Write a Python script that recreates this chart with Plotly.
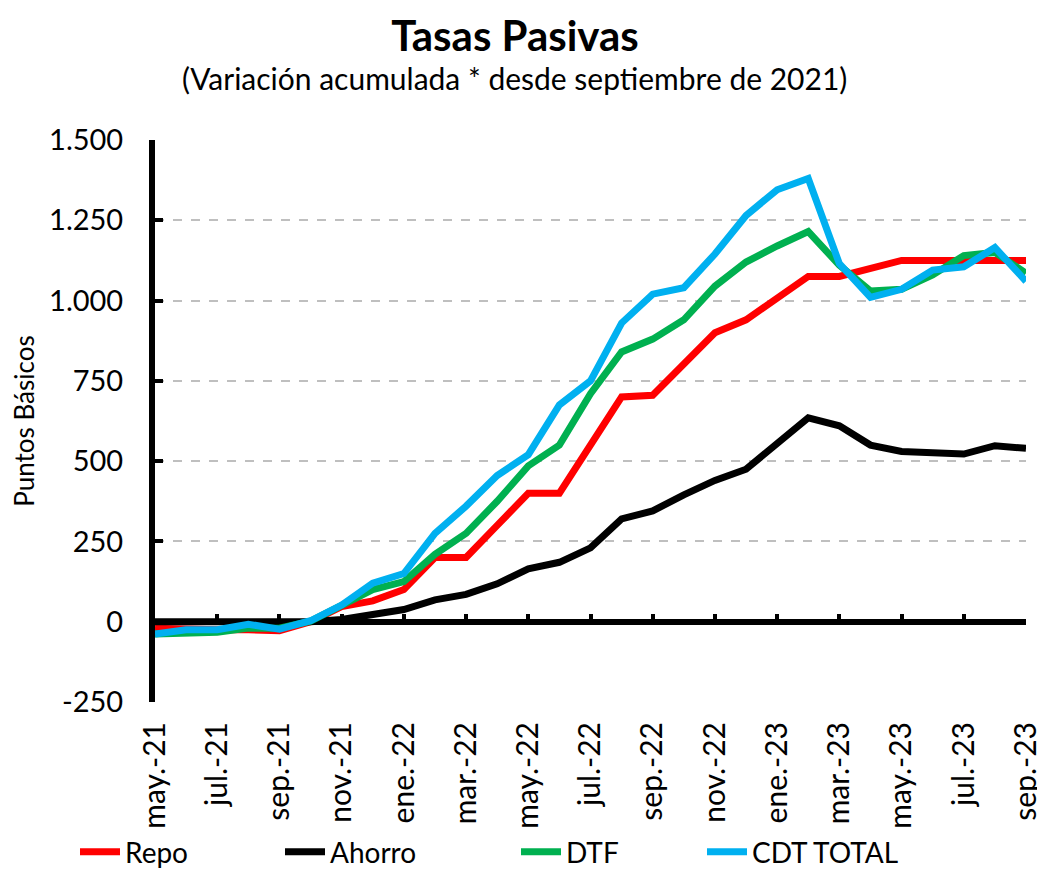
import plotly.graph_objects as go

months = ["may.-21", "jun.-21", "jul.-21", "ago.-21", "sep.-21", "oct.-21", "nov.-21", "dic.-21",
          "ene.-22", "feb.-22", "mar.-22", "abr.-22", "may.-22", "jun.-22", "jul.-22", "ago.-22",
          "sep.-22", "oct.-22", "nov.-22", "dic.-22", "ene.-23", "feb.-23", "mar.-23", "abr.-23",
          "may.-23", "jun.-23", "jul.-23", "ago.-23", "sep.-23"]

repo = [-20, -25, -25, -25, -28, 0, 47, 65, 100, 200, 200, 300, 400, 400, 550, 700, 705, 800,
        900, 940, 1010, 1075, 1075, 1100, 1125, 1125, 1125, 1125, 1125]
ahorro = [0, 0, 0, 0, 0, 0, 7, 20, 38, 68, 85, 118, 165, 185, 230, 320, 345, 395,
          440, 475, 555, 635, 610, 550, 530, 525, 522, 548, 540]
dtf = [-38, -33, -33, -20, -20, 2, 50, 100, 125, 210, 275, 375, 485, 550, 710, 840, 880, 940,
       1045, 1120, 1170, 1215, 1110, 1030, 1035, 1080, 1140, 1150, 1085]
cdt = [-38, -25, -25, -8, -23, 3, 52, 120, 150, 275, 360, 455, 520, 675, 750, 930, 1020, 1040,
       1145, 1265, 1345, 1380, 1115, 1010, 1035, 1095, 1105, 1165, 1060]

series_names = ["Repo", "Ahorro", "DTF", "CDT TOTAL"]
series_colors = ["#FF0000", "#000000", "#00B050", "#00B0F0"]
series_values = [repo, ahorro, dtf, cdt]
legend_ids = ["legend", "legend2", "legend3", "legend4"]

y_ticks = [-250, 0, 250, 500, 750, 1000, 1250, 1500]
y_ticktext = ["-250", "0", "250", "500", "750", "1.000", "1.250", "1.500"]
x_ticks = months[::2]

FONT = "Lato, 'Open Sans', sans-serif"

# page body has an 8px offset; size the figure so it fits the window
W, H = 1037, 864
OFF = 8

fig = go.Figure()
for name, color, vals, lg in zip(series_names, series_colors, series_values, legend_ids):
    fig.add_trace(go.Scatter(x=months, y=vals, mode="lines", name=name, legend=lg,
                             line=dict(color=color, width=7), hoverinfo="x+y+name"))

# dummy trace for the tick-mark axis on the zero line
fig.add_trace(go.Scatter(x=[months[0]], y=[None], xaxis="x2", showlegend=False,
                         hoverinfo="skip", mode="lines"))

ymin, ymax = -250, 1500
pl, pr, pt, pb = 155 - OFF, 19, 140 - OFF, H - (702 - OFF)
pw, ph = W - pl - pr, H - pt - pb

legend_text_starts = [129, 334, 570, 756]
legends = {}
for lg, tx in zip(legend_ids, legend_text_starts):
    legends[lg] = dict(orientation="h", x=(tx - 54 - 155) / pw, xanchor="left",
                       y=(702 - 852) / ph, yanchor="middle",
                       font=dict(size=28, family=FONT, color="black"),
                       itemwidth=40, bgcolor="rgba(0,0,0,0)")

fig.update_layout(
    width=W, height=H,
    paper_bgcolor="white", plot_bgcolor="white",
    margin=dict(l=pl, r=pr, t=pt, b=pb, autoexpand=False),
    font=dict(family=FONT, color="black"),
    title=dict(text="<b>Tasas Pasivas</b>", x=(515 - OFF) / W, xref="container", xanchor="center",
               y=1 - (36 - OFF) / H, yref="container", yanchor="middle",
               font=dict(size=42, family=FONT, color="black")),
    annotations=[dict(text="(Variación acumulada * desde septiembre de 2021)",
                      xref="paper", yref="paper",
                      x=(514 - 155) / pw, y=1 + (140 - 78) / ph,
                      xanchor="center", yanchor="middle", showarrow=False,
                      font=dict(size=30, family=FONT, color="black"))],
    xaxis=dict(type="category", categoryorder="array", categoryarray=months,
               range=[0, len(months) - 1], tickvals=x_ticks, ticktext=x_ticks,
               tickangle=-90, ticks="", showline=False, showgrid=False, zeroline=False,
               automargin=False,
               tickfont=dict(size=30, family=FONT, color="black"), ticklabelstandoff=13),
    xaxis2=dict(type="category", categoryorder="array", categoryarray=months,
                range=[0, len(months) - 1], overlaying="x", anchor="free",
                position=(0 - ymin) / (ymax - ymin), tickvals=x_ticks,
                ticks="inside", ticklen=8, tickwidth=4, tickcolor="black", automargin=False,
                showticklabels=False, showline=False, showgrid=False, zeroline=False),
    yaxis=dict(range=[ymin, ymax], tickvals=y_ticks, ticktext=y_ticktext,
               showline=True, linecolor="black", linewidth=6, automargin=False,
               ticks="inside", ticklen=8, tickwidth=4, tickcolor="black",
               showgrid=True, gridcolor="#BFBFBF", gridwidth=2, griddash="dash",
               zeroline=True, zerolinecolor="black", zerolinewidth=6,
               tickfont=dict(size=29, family=FONT, color="black"), ticklabelstandoff=20,
               title=dict(text="Puntos Básicos", standoff=14,
                          font=dict(size=26, family=FONT, color="black"))),
    showlegend=True,
    **legends,
)

fig.write_html("out.html")
